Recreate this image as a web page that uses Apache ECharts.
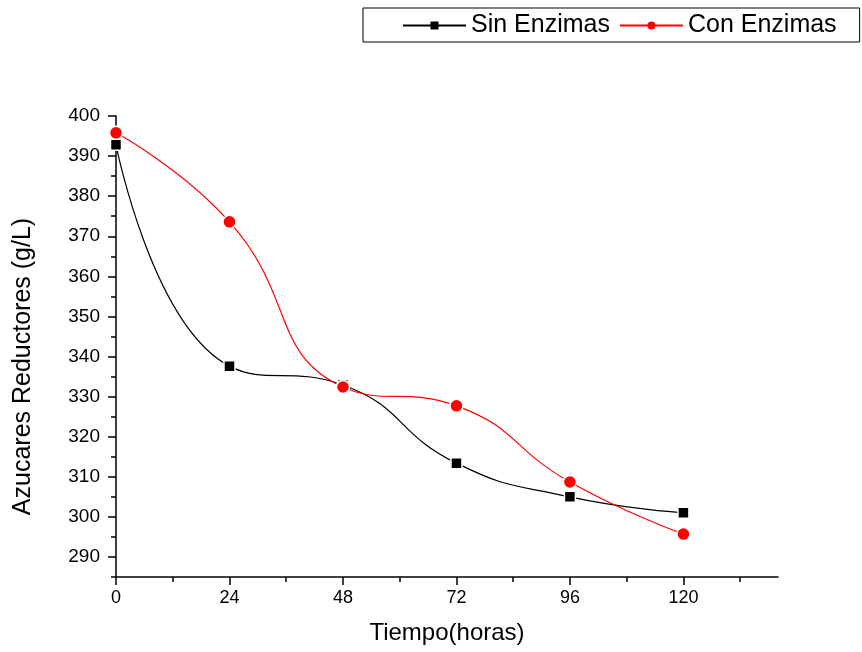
<!DOCTYPE html>
<html>
<head>
<meta charset="utf-8">
<script src="https://cdn.jsdelivr.net/npm/echarts@6/dist/echarts.min.js"></script>
<style>
  html, body { margin: 0; padding: 0; background: #fff; }
  #chart { width: 862px; height: 652px; }
</style>
</head>
<body>
<div id="chart"></div>
<script>
// tiempo en horas
const horas = [0, 24, 48, 72, 96, 120];
// azucares reductores (g/L)
const sinEnzimas = [392.8, 337.6, 332.9, 313.4, 305.0, 301.0];
const conEnzimas = [395.8, 373.6, 332.4, 327.7, 308.7, 295.7];

const xMajor = [0, 24, 48, 72, 96, 120];
const xMinor = [12, 36, 60, 84, 108, 132];
const yMajor = [290, 300, 310, 320, 330, 340, 350, 360, 370, 380, 390, 400];
const yMinor = [285, 295, 305, 315, 325, 335, 345, 355, 365, 375, 385, 395];

const fontFam = 'Liberation Sans, Arial, sans-serif';
const chart = echarts.init(document.getElementById('chart'));

const axisLine = { show: true, onZero: false, lineStyle: { color: '#000', width: 1.5 } };

chart.setOption({
    animation: false,
    textStyle: { fontFamily: fontFam, color: '#000' },
    legend: {
        left: 363,
        top: 8,
        padding: [5, 23, 4, 39],
        itemGap: 9,
        itemWidth: 63,
        itemHeight: 10,
        borderColor: '#000',
        borderWidth: 1,
        itemStyle: { borderWidth: 0 },
        textStyle: { fontSize: 25, color: '#000', fontFamily: fontFam },
        data: ['Sin Enzimas', 'Con Enzimas']
    },
    grid: { left: 116, top: 116, right: 84, bottom: 75 },
    xAxis: [{
        type: 'value',
        min: 0,
        max: 140,
        name: 'Tiempo(horas)',
        nameLocation: 'middle',
        nameGap: 44,
        nameTextStyle: { fontSize: 24, color: '#000' },
        axisLine: axisLine,
        axisTick: { show: true, length: 8, customValues: xMajor, lineStyle: { color: '#000', width: 1.5 } },
        axisLabel: { fontSize: 18, color: '#000', margin: 12, customValues: xMajor },
        splitLine: { show: false }
    }, {
        type: 'value',
        min: 0,
        max: 140,
        position: 'bottom',
        axisLine: { show: false },
        axisTick: { show: true, length: 5, customValues: xMinor, lineStyle: { color: '#000', width: 1.5 } },
        axisLabel: { show: false },
        splitLine: { show: false }
    }],
    yAxis: [{
        type: 'value',
        min: 285,
        max: 400,
        name: 'Azucares Reductores (g/L)',
        nameLocation: 'middle',
        nameGap: 80,
        nameTextStyle: { fontSize: 25, color: '#000', padding: [0, 40, 0, 0] },
        axisLine: axisLine,
        axisTick: { show: true, length: 8, customValues: yMajor, lineStyle: { color: '#000', width: 1.5 } },
        axisLabel: { fontSize: 19, color: '#000', margin: 16, customValues: yMajor },
        splitLine: { show: false }
    }, {
        type: 'value',
        min: 285,
        max: 400,
        position: 'left',
        axisLine: { show: false },
        axisTick: { show: true, length: 5, customValues: yMinor, lineStyle: { color: '#000', width: 1.5 } },
        axisLabel: { show: false },
        splitLine: { show: false }
    }],
    series: [{
        name: 'Sin Enzimas',
        type: 'line',
        smooth: 0.5,
        data: horas.map((h, i) => [h, sinEnzimas[i]]),
        symbol: 'rect',
        symbolSize: 11,
        lineStyle: { color: '#000', width: 1.2 },
        itemStyle: { color: '#000', borderColor: '#fff', borderWidth: 1.5 }
    }, {
        name: 'Con Enzimas',
        type: 'line',
        smooth: 0.5,
        data: horas.map((h, i) => [h, conEnzimas[i]]),
        symbol: 'circle',
        symbolSize: 13,
        lineStyle: { color: '#ff0000', width: 1.2 },
        itemStyle: { color: '#ff0000', borderColor: '#fff', borderWidth: 1.5 }
    }]
});
</script>
</body>
</html>
